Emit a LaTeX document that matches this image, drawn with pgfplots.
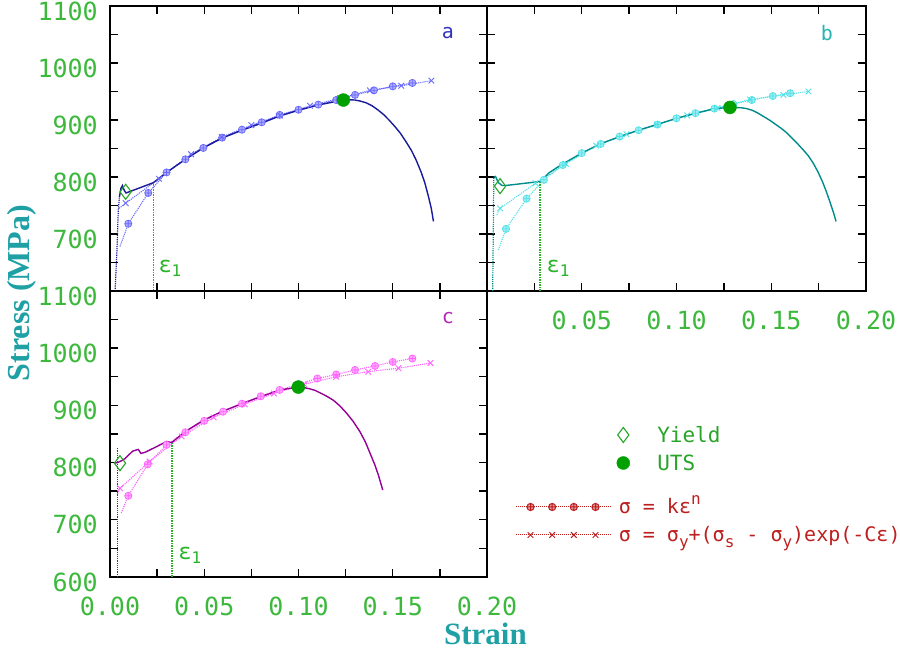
\documentclass[border=0pt]{standalone}
\usepackage{pgfplots}
\pgfplotsset{compat=1.18}
\usepackage{pgfplotstable}
\usepackage{fontspec}
\setmainfont{DejaVu Sans Mono}
\newfontfamily\labelfont{Liberation Serif}

\definecolor{curveA}{RGB}{25,25,155}
\definecolor{lightA}{RGB}{105,105,255}
\definecolor{labelA}{RGB}{50,50,190}
\definecolor{curveB}{RGB}{0,140,140}
\definecolor{lightB}{RGB}{80,225,230}
\definecolor{labelB}{RGB}{40,180,180}
\definecolor{curveC}{RGB}{150,0,150}
\definecolor{lightC}{RGB}{255,100,255}
\definecolor{labelC}{RGB}{180,40,180}
\definecolor{tickgreen}{RGB}{60,185,60}
\definecolor{epsgreen}{RGB}{40,180,40}
\definecolor{yieldgreen}{RGB}{40,165,40}
\definecolor{utsgreen}{RGB}{0,160,0}
\definecolor{labelteal}{RGB}{30,160,165}
\definecolor{legred}{RGB}{190,30,30}

\newcommand\subr[1]{\raisebox{-0.3em}{\fontsize{16}{16}\selectfont #1}}
\newcommand\supr[1]{\raisebox{0.45em}{\fontsize{16}{16}\selectfont #1}}
\newcommand\epsone{\fontsize{22}{24}\selectfont ε\raisebox{-4pt}{\fontsize{16}{16}\selectfont 1}}

% ---------- panel a ----------
\pgfplotstableread{
x y
0.0027 600
0.0037 672
0.0044 742
0.0050 765
}\ELa
\pgfplotstableread{
x y
0.0050 765
0.0058 780
0.0066 785
0.0075 777
0.0085 772
0.0110 775
0.0150 780
0.0190 785
0.0230 790
0.0300 808
0.0400 831
0.0500 852
0.0600 869
0.0700 882
0.0800 894
0.0900 907
0.1000 917
0.1100 926
0.1238 935
0.1270 935.5
0.1300 935
0.1330 933
0.1360 930
0.1390 925
0.1420 918
0.1450 910
0.1480 900
0.1510 889
0.1540 877
0.1570 862
0.1600 846
0.1625 829
0.1650 809
0.1670 790
0.1690 765
0.1705 744
0.1716 722
}\CUa
\pgfplotstableread{
x y
0.0053 678
0.0097 718
0.0203 772
0.0300 808
0.0400 831
0.0495 851
0.0595 869
0.0700 883
0.0805 896
0.0900 909
0.1000 918
0.1105 927
0.1200 935
0.1300 944
0.1400 952
0.1500 959
0.1604 965
}\PLa
\pgfplotstableread{
x y
0.0048 745
0.0083 754
0.0260 797
0.0430 840
0.0593 870
0.0750 891
0.0902 908
0.1061 925
0.1220 938
0.1379 952
0.1545 960
0.1705 969
}\VOa

% ---------- panel b ----------
\pgfplotstableread{
x y
0.0030 600
0.0033 700
0.0036 800
}\ELb
\pgfplotstableread{
x y
0.0036 800
0.0045 801
0.0060 790
0.0080 785
0.0095 785
0.0150 787
0.0200 789
0.0279 792
0.0330 808
0.0390 821
0.0500 842
0.0596 858
0.0702 871
0.0799 882
0.0896 892
0.1001 903
0.1103 912
0.1203 920
0.1282 922
0.1340 921.5
0.1370 920
0.1400 917
0.1430 912
0.1460 906
0.1490 900
0.1520 893
0.1550 886
0.1580 878
0.1610 868
0.1640 858
0.1670 847
0.1696 837
0.1720 825
0.1745 810
0.1770 792
0.1790 775
0.1810 756
0.1828 738
0.1842 722
}\CUb
\pgfplotstableread{
x y
0.0060 672
0.0100 709
0.0209 762
0.0300 795
0.0400 821
0.0500 842
0.0600 858
0.0700 871
0.0800 882
0.0900 892
0.1000 903
0.1100 912
0.1200 920
0.1300 928
0.1397 935
0.1508 942
0.1600 947
}\PLb
\pgfplotstableread{
x y
0.0051 733
0.0069 745
0.0256 789
0.0416 823
0.0576 855
0.0736 875
0.0896 892
0.1056 908
0.1216 921
0.1388 936
0.1564 944
0.1696 950
}\VOb

% ---------- panel c ----------
\pgfplotstableread{
x y
0.0041 600
0.0041 825
}\ELc
\pgfplotstableread{
x y
0.0023 799
0.0040 800
0.0060 803
0.0080 807
0.0120 820
0.0150 823
0.0164 816
0.0186 818
0.0248 828
0.0300 837
0.0327 835
0.0398 854
0.0495 874
0.0592 889
0.0707 904
0.0805 916
0.0902 927
0.0999 932
0.1030 931
0.1060 929
0.1090 926
0.1120 921
0.1150 916
0.1185 909
0.1220 899
0.1256 886
0.1290 872
0.1326 854
0.1355 836
0.1380 816
0.1405 796
0.1424 778
0.1447 752
}\CUc
\pgfplotstableread{
x y
0.0060 712
0.0097 742
0.0200 797
0.0300 831
0.0400 853
0.0500 873
0.0600 889
0.0700 903
0.0800 916
0.0900 927
0.1000 937
0.1100 947
0.1200 954
0.1300 962
0.1406 969
0.1500 976
0.1604 982
}\PLc
\pgfplotstableread{
x y
0.0040 745
0.0053 755
0.0210 802
0.0380 846
0.0550 879
0.0715 902
0.0870 921
0.1030 937
0.1200 950
0.1370 959
0.1530 965
0.1700 974
}\VOc

\pgfplotsset{
  panel/.style={
    scale only axis, clip=true,
    xmin=0, xmax=0.2, ymin=600, ymax=1100,
    xtick={0,0.05,0.1,0.15,0.2},
    minor xtick={0.025,0.075,0.125,0.175},
    ytick={600,700,800,900,1000,1100},
    minor ytick={650,750,850,950,1050},
    major tick length=8pt, minor tick length=8pt,
    axis line style={line width=1.6pt},
    every tick/.append style={black, line width=1.4pt},
    every minor tick/.append style={black, line width=1.4pt},
    tick label style={font=\fontsize{25}{30}\selectfont, text=tickgreen},
    /pgf/number format/assume math mode=true,
    yticklabel style={anchor=east, inner sep=0pt, xshift=-12pt, yshift=-5pt},
    xticklabel style={anchor=north, inner sep=0pt, yshift=-20pt},
    xticklabels={}, yticklabels={},
  },
  fit/.style={#1, densely dotted, line width=1.1pt, no markers},
  plm/.style={only marks, mark=oplus*, mark size=3.6pt, mark options={solid, draw=#1, fill=#1!55, line width=0.7pt}},
  vom/.style={only marks, mark=x, mark size=4pt, mark options={solid, draw=#1, line width=0.9pt}},
  epsline/.style={draw=epsgreen, densely dotted, line width=1.5pt},
  yieldm/.style={only marks, mark=diamond, mark size=7.5pt, mark options={solid, draw=yieldgreen, fill=none, line width=1.1pt}},
  utsm/.style={only marks, mark=*, mark size=6.5pt, mark options={draw=utsgreen, fill=utsgreen}},
  markslegend/.style={legend image code/.code={
      \path[draw=none, fill=none] (0pt,-6pt) rectangle (54pt,22pt);
      \draw[##1] plot coordinates {(20pt,7.7pt)};
  }},
  formulalegend/.style={legend image code/.code={
      \path[draw=none, fill=none] (0pt,-8pt) rectangle (103.3pt,20pt);
      \draw[##1] (0pt,6.6pt) -- (95pt,6.6pt);
      \draw[##1, only marks] plot coordinates {(15pt,6.6pt) (36.7pt,6.6pt) (58.3pt,6.6pt) (80pt,6.6pt)};
  }},
}

\begin{document}
\begin{tikzpicture}
\useasboundingbox (0pt,0pt) rectangle (900pt,652pt);

% ---------------- panel a ----------------
\begin{axis}[panel, at={(110pt,361pt)}, anchor=south west, width=377pt, height=285pt,
  yticklabels={,700,800,900,1000,1100}]
\addplot[fit=lightA] table {\PLa};
\addplot[plm=lightA] table[skip coords between index={0}{1}] {\PLa};
\addplot[fit=lightA] table {\VOa};
\addplot[vom=lightA] table[skip coords between index={0}{1}] {\VOa};
\addplot[curveA, densely dotted, line width=1.2pt] table {\ELa};
\addplot[curveA, line width=1.4pt] table {\CUa};
\addplot[epsline] coordinates {(0.023,600) (0.023,790)};
\addplot[yieldm] coordinates {(0.0083,774)};
\addplot[utsm] coordinates {(0.1238,935)};
\node[text=labelA, font=\fontsize{20}{24}\selectfont] at (axis cs:0.1793,1052) {a};
\node[text=epsgreen] at (axis cs:0.0318,640) {\epsone};
\end{axis}

% ---------------- panel b ----------------
\begin{axis}[panel, at={(487pt,361pt)}, anchor=south west, width=379pt, height=285pt,
  xticklabels={,0.05,0.10,0.15,0.20}]
\addplot[fit=lightB] table {\PLb};
\addplot[plm=lightB] table[skip coords between index={0}{1}] {\PLb};
\addplot[fit=lightB] table {\VOb};
\addplot[vom=lightB] table[skip coords between index={0}{1}] {\VOb};
\addplot[curveB, densely dotted, line width=1.2pt] table {\ELb};
\addplot[curveB, line width=1.4pt] table {\CUb};
\addplot[epsline] coordinates {(0.028,600) (0.028,792)};
\addplot[yieldm] coordinates {(0.0069,784)};
\addplot[utsm] coordinates {(0.1282,922)};
\node[text=labelB, font=\fontsize{20}{24}\selectfont] at (axis cs:0.1794,1052) {b};
\node[text=epsgreen] at (axis cs:0.0375,640) {\epsone};
\end{axis}

% ---------------- panel c ----------------
\begin{axis}[panel, at={(110pt,75pt)}, anchor=south west, width=377pt, height=286pt,
  xticklabels={0.00,0.05,0.10,0.15,0.20},
  yticklabels={600,700,800,900,1000,1100},
  xlabel={\labelfont\bfseries Strain},
  xlabel style={at={(axis description cs:0.996,-0.200)}, anchor=center, inner sep=0pt, text=labelteal, font=\fontsize{31}{34}\selectfont},
  ylabel={\labelfont\bfseries Stress (MPa)},
  ylabel style={at={(axis description cs:-0.2334,0.993)}, anchor=center, inner sep=0pt, text=labelteal, font=\fontsize{32}{36}\selectfont}]
\addplot[fit=lightC] table {\PLc};
\addplot[plm=lightC] table[skip coords between index={0}{1}] {\PLc};
\addplot[fit=lightC] table {\VOc};
\addplot[vom=lightC] table[skip coords between index={0}{1}] {\VOc};
\addplot[curveC, densely dotted, line width=1.2pt] table {\ELc};
\addplot[curveC, line width=1.4pt] table {\CUc};
\addplot[epsline] coordinates {(0.033,600) (0.033,835)};
\addplot[yieldm] coordinates {(0.0053,799)};
\addplot[utsm] coordinates {(0.0999,932)};
\node[text=labelC, font=\fontsize{20}{24}\selectfont] at (axis cs:0.1793,1053) {c};
\node[text=epsgreen] at (axis cs:0.0424,638) {\epsone};
\end{axis}

% ---------------- legends ----------------
\begin{axis}[hide axis, scale only axis, at={(487pt,75pt)}, anchor=south west, width=413pt, height=286pt,
  xmin=0, xmax=1, ymin=0, ymax=1,
  legend style={at={(axis description cs:0.2816,0.5465)}, anchor=north west, draw=none, fill=none,
    inner sep=0pt, outer sep=0pt, row sep=0pt, column sep=0pt,
    cells={anchor=base west}, nodes={inner sep=0pt},
    font=\fontsize{21}{24}\selectfont, text=yieldgreen}]
\addlegendimage{markslegend, yieldm}
\addlegendentry{Yield}
\addlegendimage{markslegend, utsm}
\addlegendentry{UTS}
\end{axis}

\begin{axis}[hide axis, scale only axis, at={(487pt,75pt)}, anchor=south west, width=413pt, height=286pt,
  xmin=0, xmax=1, ymin=0, ymax=1,
  legend style={at={(axis description cs:0.0678,0.2916)}, anchor=north west, draw=none, fill=none,
    inner sep=0pt, outer sep=0pt, row sep=0pt, column sep=0pt,
    cells={anchor=base west}, nodes={inner sep=0pt},
    font=\fontsize{20}{24}\selectfont, text=legred}]
\addlegendimage{formulalegend, legred, densely dotted, line width=1pt, mark=oplus*, mark size=3.6pt, mark options={solid, draw=legred, fill=legred!45}}
\addlegendentry{σ = kε\supr{n}}
\addlegendimage{formulalegend, legred, densely dotted, line width=1pt, mark=x, mark size=4pt, mark options={solid, draw=legred}}
\addlegendentry{σ = σ\subr{y}+(σ\subr{s} - σ\subr{y})exp(-Cε)}
\end{axis}
\end{tikzpicture}
\end{document}
